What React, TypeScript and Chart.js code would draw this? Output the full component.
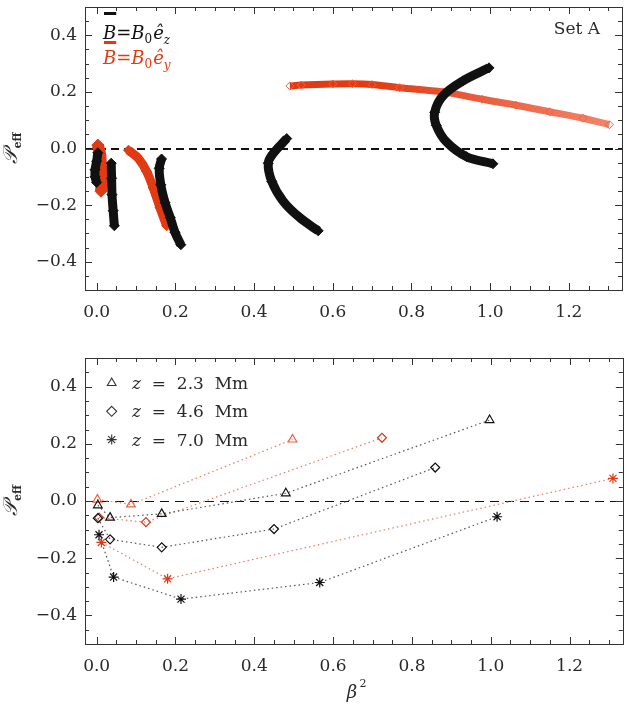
import { useEffect, useRef } from "react";
import { Chart, registerables } from "chart.js";

Chart.register(...registerables);

// axis setup (both panels share the same ranges)
const X_MIN = -0.0296;
const X_MAX = 1.335;
const Y_MIN = -0.5;
const Y_MAX = 0.5;
const X_TICKS = [0, 0.2, 0.4, 0.6, 0.8, 1.0, 1.2];
const Y_TICKS = [-0.4, -0.2, 0, 0.2, 0.4];

// top panel: B = B0 e_z branches (black)
const ezB1x = [0.003, 0.0, -0.004, -0.004, 0.0];
const ezB1y = [-0.015, -0.045, -0.075, -0.1, -0.12];
const ezB2x = [0.037, 0.038, 0.039, 0.042, 0.045];
const ezB2y = [-0.052, -0.105, -0.163, -0.22, -0.273];
const ezB3x = [0.165, 0.159, 0.163, 0.174, 0.187, 0.199, 0.214];
const ezB3y = [-0.037, -0.07, -0.128, -0.192, -0.244, -0.296, -0.34];
const ezB4x = [0.483, 0.449, 0.436, 0.445, 0.474, 0.516, 0.563];
const ezB4y = [0.035, -0.017, -0.052, -0.116, -0.186, -0.244, -0.291];
const ezB5x = [0.997, 0.931, 0.88, 0.859, 0.863, 0.889, 0.94, 1.007];
const ezB5y = [0.285, 0.239, 0.186, 0.128, 0.082, 0.023, -0.029, -0.054];

// top panel: B = B0 e_y branches (red)
const eyB1x = [0.003, 0.009, 0.011, 0.013, 0.011];
const eyB1y = [0.012, -0.023, -0.07, -0.116, -0.151];
const eyB2x = [0.081, 0.106, 0.127, 0.144, 0.161, 0.178];
const eyB2y = [-0.006, -0.035, -0.081, -0.14, -0.209, -0.273];
const eyB3x = [0.491, 0.52, 0.6, 0.65, 0.7, 0.77, 0.88, 0.98, 1.066, 1.151, 1.236, 1.303];
const eyB3y = [0.221, 0.224, 0.228, 0.229, 0.226, 0.215, 0.2, 0.174, 0.153, 0.13, 0.107, 0.084];

// bottom panel: one point per branch at each height z
const ezTriX = [0.003, 0.034, 0.165, 0.48, 0.997];
const ezTriY = [-0.015, -0.058, -0.045, 0.027, 0.283];
const ezDiaX = [0.003, 0.034, 0.165, 0.45, 0.859];
const ezDiaY = [-0.06, -0.134, -0.162, -0.098, 0.117];
const ezAstX = [0.006, 0.043, 0.214, 0.566, 1.016];
const ezAstY = [-0.118, -0.266, -0.343, -0.285, -0.055];
const eyTriX = [0.002, 0.087, 0.497];
const eyTriY = [0.005, -0.012, 0.215];
const eyDiaX = [0.006, 0.125, 0.724];
const eyDiaY = [-0.058, -0.074, 0.221];
const eyAstX = [0.012, 0.18, 1.31];
const eyAstY = [-0.145, -0.272, 0.079];

const legendLabels = ["2.3", "4.6", "7.0"];

const FONT = "'DejaVu Serif', serif";
const TEXT = "#2a2a2a";
const BLACK = "#111111";
const RED = "rgb(226, 58, 18)";
const RED_LIGHT = "rgb(238, 96, 66)";
const RED_DOT = "rgb(240, 120, 100)";
const GREY_DOT = "#555555";

const pts = (xs: number[], ys: number[]) => xs.map((x, i) => ({ x, y: ys[i] }));

const fmt = (v: any) => {
  const s = Number(v).toFixed(1);
  return Number(v) < 0 ? "\u2212" + s.slice(1) : s;
};

function band(xs: number[], ys: number[], color: any, width: number, radius: number) {
  return {
    data: pts(xs, ys),
    showLine: true,
    borderColor: color,
    backgroundColor: color,
    borderWidth: width,
    tension: 0.35,
    pointStyle: "rectRot",
    pointRadius: radius,
    pointBorderWidth: 1,
    pointBackgroundColor: color,
    pointBorderColor: color,
  };
}

function chain(xs: number[], ys: number[], marker: string, markColor: string, lineColor: string) {
  return {
    data: pts(xs, ys),
    showLine: true,
    borderColor: lineColor,
    borderWidth: 1.2,
    borderDash: [1.5, 3],
    tension: 0,
    pointStyle: marker,
    pointRadius: marker === "rectRot" ? 4.5 : 5,
    pointBorderWidth: 1.2,
    pointBorderColor: markColor,
    pointBackgroundColor: "rgba(0,0,0,0)",
  };
}

function drawMarker(ctx: CanvasRenderingContext2D, kind: string, cx: number, cy: number, r: number) {
  ctx.beginPath();
  if (kind === "triangle") {
    ctx.moveTo(cx, cy - r);
    ctx.lineTo(cx + r * 0.87, cy + r * 0.5);
    ctx.lineTo(cx - r * 0.87, cy + r * 0.5);
    ctx.closePath();
  } else if (kind === "rectRot") {
    ctx.moveTo(cx, cy - r);
    ctx.lineTo(cx + r, cy);
    ctx.lineTo(cx, cy + r);
    ctx.lineTo(cx - r, cy);
    ctx.closePath();
  } else {
    for (let i = 0; i < 4; i++) {
      const a = (i * Math.PI) / 4;
      ctx.moveTo(cx - r * Math.cos(a), cy - r * Math.sin(a));
      ctx.lineTo(cx + r * Math.cos(a), cy + r * Math.sin(a));
    }
  }
  ctx.stroke();
}

function yTitle(ctx: CanvasRenderingContext2D, x: number, cy: number) {
  ctx.save();
  ctx.translate(x, cy);
  ctx.rotate(-Math.PI / 2);
  ctx.fillStyle = TEXT;
  ctx.font = `italic 20px ${FONT}`;
  const w1 = ctx.measureText("\u{1D4AB}").width;
  ctx.font = `bold 11px ${FONT}`;
  const w2 = ctx.measureText("eff").width;
  const x0 = -(w1 + w2) / 2;
  ctx.font = `italic 20px ${FONT}`;
  ctx.textBaseline = "alphabetic";
  ctx.fillText("\u{1D4AB}", x0, 5);
  ctx.font = `bold 11px ${FONT}`;
  ctx.fillText("eff", x0 + w1 + 1, 9);
  ctx.restore();
}

// frame, inward ticks, dashed zero line and panel texts
function makeDecor(zeroWidth: number, zeroDash: number[], drawText: (c: Chart) => void) {
  return {
    id: "decor",
    beforeDatasetsDraw(chart: Chart) {
      const { ctx, chartArea: a, scales } = chart;
      const py = Math.round(scales.y.getPixelForValue(0)) + (zeroWidth === 1 ? 0.5 : 0);
      ctx.save();
      ctx.strokeStyle = BLACK;
      ctx.lineWidth = zeroWidth;
      ctx.setLineDash(zeroDash);
      ctx.beginPath();
      ctx.moveTo(a.left, py);
      ctx.lineTo(a.right, py);
      ctx.stroke();
      ctx.restore();
    },
    afterDraw(chart: Chart) {
      const { ctx, chartArea: a, scales } = chart;
      ctx.save();
      ctx.strokeStyle = "#333";
      ctx.lineWidth = 1;
      ctx.strokeRect(Math.round(a.left) + 0.5, Math.round(a.top) + 0.5, Math.round(a.right - a.left), Math.round(a.bottom - a.top));
      ctx.beginPath();
      for (let i = 0; i <= 26; i++) {
        const px = Math.round(scales.x.getPixelForValue(i * 0.05)) + 0.5;
        if (px < a.left || px > a.right) continue;
        const len = i % 4 === 0 ? 7 : 4;
        ctx.moveTo(px, a.bottom);
        ctx.lineTo(px, a.bottom - len);
        ctx.moveTo(px, a.top);
        ctx.lineTo(px, a.top + len);
      }
      for (let i = -9; i <= 9; i++) {
        const py = Math.round(scales.y.getPixelForValue(i * 0.05)) + 0.5;
        const len = i % 4 === 0 ? 7 : 4;
        ctx.moveTo(a.left, py);
        ctx.lineTo(a.left + len, py);
        ctx.moveTo(a.right, py);
        ctx.lineTo(a.right - len, py);
      }
      ctx.stroke();
      ctx.restore();
      drawText(chart);
    },
  };
}

function options(padTop: number, xHeight: number) {
  return {
    animation: false,
    responsive: false,
    maintainAspectRatio: false,
    layout: { padding: { top: padTop, right: 5, left: 0, bottom: 0 } },
    plugins: { legend: { display: false }, tooltip: { enabled: false } },
    scales: {
      x: {
        type: "linear",
        min: X_MIN,
        max: X_MAX,
        grid: { display: false, drawTicks: false },
        border: { display: false },
        afterBuildTicks: (s: any) => {
          s.ticks = X_TICKS.map((v) => ({ value: v }));
        },
        afterFit: (s: any) => {
          s.height = xHeight;
          s.paddingLeft = 0;
          s.paddingRight = 0;
        },
        ticks: { padding: 12, color: TEXT, font: { family: FONT, size: 17 }, callback: fmt, maxRotation: 0, autoSkip: false },
      },
      y: {
        type: "linear",
        min: Y_MIN,
        max: Y_MAX,
        grid: { display: false, drawTicks: false },
        border: { display: false },
        afterBuildTicks: (s: any) => {
          s.ticks = Y_TICKS.map((v) => ({ value: v }));
        },
        afterFit: (s: any) => {
          s.width = 85;
          s.paddingTop = 0;
          s.paddingBottom = 0;
        },
        ticks: { padding: 8, color: TEXT, font: { family: FONT, size: 17 }, callback: fmt, autoSkip: false },
      },
    },
  };
}

function bRow(ctx: CanvasRenderingContext2D, x: number, base: number, barY: number, color: string, sub: string) {
  ctx.fillStyle = color;
  ctx.textBaseline = "alphabetic";
  ctx.font = `italic 18px ${FONT}`;
  ctx.fillText("B", x, base);
  const wB = ctx.measureText("B").width;
  ctx.fillRect(x + 1, barY, wB - 1, 3);
  let cx = x + wB;
  ctx.font = `18px ${FONT}`;
  ctx.fillText("=", cx, base);
  cx += ctx.measureText("=").width;
  ctx.font = `italic 18px ${FONT}`;
  ctx.fillText("B", cx, base);
  cx += wB;
  ctx.font = `12px ${FONT}`;
  ctx.fillText("0", cx, base + 4);
  cx += ctx.measureText("0").width + 1;
  ctx.font = `italic 18px ${FONT}`;
  ctx.fillText("\u00EA", cx, base);
  cx += ctx.measureText("\u00EA").width;
  ctx.font = `italic 12px ${FONT}`;
  ctx.fillText(sub, cx, base + 5);
}

function topText(chart: Chart) {
  const { ctx, chartArea: a } = chart;
  ctx.save();
  bRow(ctx, a.left + 18, 38.5, 12, BLACK, "z");
  bRow(ctx, a.left + 18, 63.5, 41, RED, "y");
  ctx.fillStyle = TEXT;
  ctx.font = `17px ${FONT}`;
  ctx.textAlign = "right";
  ctx.fillText("Set A", a.right - 22, 34);
  ctx.restore();
  yTitle(ctx, 12, (a.top + a.bottom) / 2);
}

function bottomText(chart: Chart) {
  const { ctx, chartArea: a } = chart;
  ctx.save();
  const kinds = ["triangle", "rectRot", "star"];
  ctx.strokeStyle = "#333";
  ctx.lineWidth = 1.1;
  ctx.fillStyle = TEXT;
  ctx.textBaseline = "alphabetic";
  kinds.forEach((k, i) => {
    const cy = a.top + 25 + i * 28.3;
    drawMarker(ctx, k, a.left + 26.7, cy, 5);
    let cx = a.left + 47;
    ctx.font = `italic 17px ${FONT}`;
    ctx.fillText("z", cx, cy + 6);
    cx += ctx.measureText("z").width;
    ctx.font = `17px ${FONT}`;
    ctx.fillText("  =  " + legendLabels[i] + "  Mm", cx, cy + 6);
  });
  const mid = (a.left + a.right) / 2;
  ctx.font = `italic 18px ${FONT}`;
  ctx.textAlign = "center";
  ctx.fillText("\u03B2", mid - 2, a.bottom + 54);
  ctx.font = `11px ${FONT}`;
  ctx.fillText("2", mid + 9, a.bottom + 43);
  ctx.restore();
  yTitle(ctx, 12, (a.top + a.bottom) / 2);
}

function red3Color(c: any) {
  const ch = c.chart;
  if (!ch.chartArea) return RED;
  const xs = ch.scales.x;
  const g = ch.ctx.createLinearGradient(xs.getPixelForValue(0.7), 0, xs.getPixelForValue(1.3), 0);
  g.addColorStop(0, RED);
  g.addColorStop(1, "rgba(240, 110, 80, 0.85)");
  return g;
}

function TopPanel() {
  const ref = useRef<HTMLCanvasElement | null>(null);
  useEffect(() => {
    if (!ref.current) return;
    const red3: any = band(eyB3x, eyB3y, RED, 7, 4);
    red3.borderColor = red3Color;
    red3.pointBackgroundColor = "rgba(255,255,255,0)";
    red3.pointBorderColor = RED_LIGHT;
    const chart = new Chart(ref.current, {
      type: "scatter",
      data: {
        datasets: [
          band(ezB1x, ezB1y, BLACK, 9, 5),
          band(ezB2x, ezB2y, BLACK, 9, 5),
          band(ezB3x, ezB3y, BLACK, 9, 5),
          band(ezB4x, ezB4y, BLACK, 9, 5),
          band(ezB5x, ezB5y, BLACK, 9, 5),
          band(eyB1x, eyB1y, RED, 12, 6),
          band(eyB2x, eyB2y, RED, 9, 5),
          red3,
        ] as any,
      },
      options: options(3, 45) as any,
      plugins: [makeDecor(2, [8, 5], topText)],
    });
    return () => chart.destroy();
  }, []);
  return <canvas ref={ref} width={629} height={335} style={{ display: "block" }} />;
}

function BottomPanel() {
  const ref = useRef<HTMLCanvasElement | null>(null);
  useEffect(() => {
    if (!ref.current) return;
    const chart = new Chart(ref.current, {
      type: "scatter",
      data: {
        datasets: [
          chain(ezTriX, ezTriY, "triangle", BLACK, GREY_DOT),
          chain(ezDiaX, ezDiaY, "rectRot", BLACK, GREY_DOT),
          chain(ezAstX, ezAstY, "star", BLACK, GREY_DOT),
          chain(eyTriX, eyTriY, "triangle", RED_LIGHT, RED_DOT),
          chain(eyDiaX, eyDiaY, "rectRot", "rgb(200, 64, 32)", RED_DOT),
          chain(eyAstX, eyAstY, "star", RED, RED_DOT),
        ] as any,
      },
      options: options(23, 64) as any,
      plugins: [makeDecor(1, [9, 6], bottomText)],
    });
    return () => chart.destroy();
  }, []);
  return <canvas ref={ref} width={629} height={373} style={{ display: "block" }} />;
}

export default function App() {
  return (
    <div style={{ position: "absolute", left: 0, top: 0, width: 629, height: 708, background: "#fff" }}>
      <TopPanel />
      <BottomPanel />
    </div>
  );
}
